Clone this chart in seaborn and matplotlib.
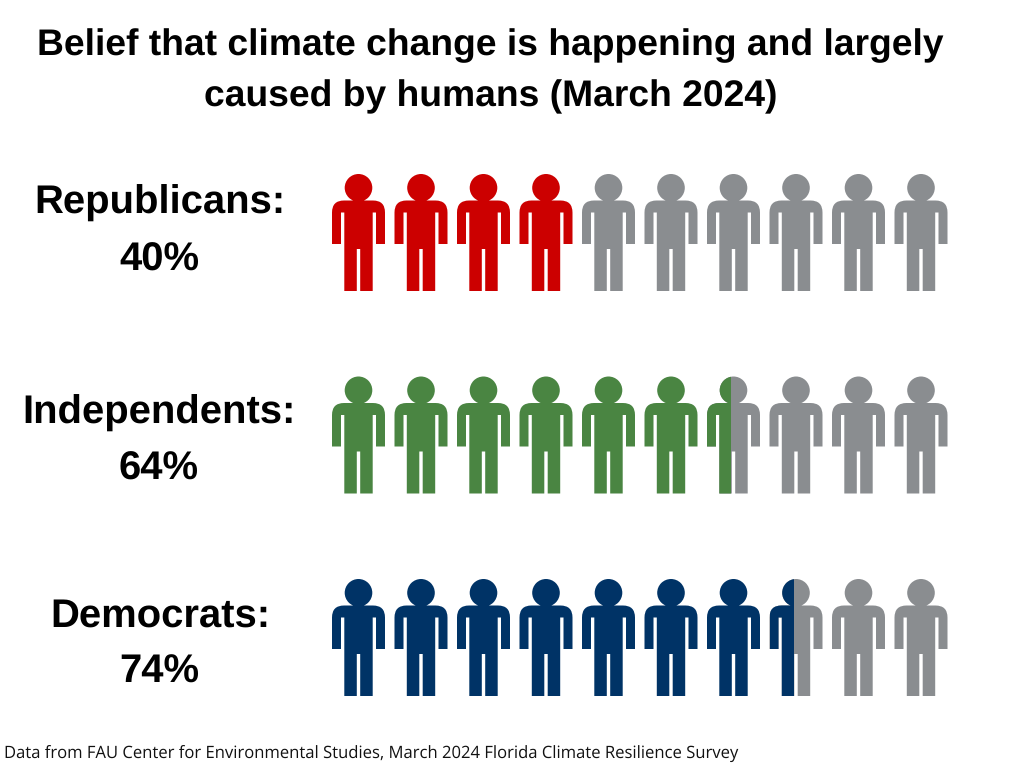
import matplotlib
matplotlib.use("Agg")
import matplotlib.pyplot as plt
from matplotlib.path import Path
from matplotlib.patches import Rectangle
from matplotlib.transforms import Affine2D
import pandas as pd
import seaborn as sns

groups = ["Republicans", "Independents", "Democrats"]
percent_labels = ["40%", "64%", "74%"]
full_icons = [4, 6, 7]
partial_fraction = [0.0, 0.45, 0.47]
icon_count = 10
colors = {"Republicans": "#CC0000", "Independents": "#4A8542", "Democrats": "#003366", "rest": "#8A8D90"}
title_lines = ["Belief that climate change is happening and largely", "caused by humans (March 2024)"]
source = "Data from FAU Center for Environmental Studies, March 2024 Florida Climate Resilience Survey"

sns.set_theme(style="white")
plt.rcParams["font.family"] = ["Liberation Sans", "DejaVu Sans"]
plt.rcParams["text.hinting"] = "no_hinting"
plt.rcParams["text.hinting_factor"] = 8

# Person pictogram, in pixel-like local units, y up
body_v = [(-14.2, -58.5), (-1.7, -58.5), (-1.7, -16.5), (1.7, -16.5), (1.7, -58.5), (14.2, -58.5), (14.2, 20), (17.5, 20),
          (17.5, -11.5), (26.5, -11.5), (26.5, 20), (26.5, 32), (14.5, 32), (-14.5, 32), (-26.5, 32), (-26.5, 20),
          (-26.5, -11.5), (-17.5, -11.5), (-17.5, 20), (-14.2, 20), (-14.2, -58.5)]
body_c = [Path.MOVETO] + [Path.LINETO] * 9 + [Path.LINETO, Path.CURVE3, Path.CURVE3, Path.LINETO, Path.CURVE3,
          Path.CURVE3] + [Path.LINETO] * 4 + [Path.CLOSEPOLY]
head = Path.unit_circle().transformed(Affine2D().scale(13.8).translate(0, 44.7))
person = Path.make_compound_path(head, Path(body_v, body_c))
ICON_W, ICON_H, STEP, ROW_STEP = 53, 117, 62.5, 202.5
SIZE = (ICON_H * 72 / 100) ** 2

fig = plt.figure(figsize=(10.24, 7.68), dpi=100)
ax = fig.add_axes([0, 0, 1, 1])

rows = []
for r, g in enumerate(groups):
    for i in range(icon_count):
        rows.append({"icon": i, "row": r, "fill": g if i < full_icons[r] else "rest"})
df = pd.DataFrame(rows)

sns.scatterplot(data=df, x="icon", y="row", hue="fill", palette=colors, marker=person, s=SIZE,
                linewidth=0, edgecolor="none", legend=False, ax=ax)

for r, g in enumerate(groups):
    if partial_fraction[r] > 0:
        i = full_icons[r]
        sns.scatterplot(x=[i], y=[r], color=colors[g], marker=person, s=SIZE, linewidth=0,
                        edgecolor="none", legend=False, ax=ax)
        w = ICON_W / STEP
        clip = Rectangle((i - w / 2, r - 0.5), w * partial_fraction[r], 1, transform=ax.transData)
        ax.collections[-1].set_clip_path(clip)

ax.set_xlim(-358.5 / STEP, (1024 - 358.5) / STEP)
ax.set_ylim((768 - 232.5) / ROW_STEP, -232.5 / ROW_STEP)
ax.set_axis_off()

def px(x, y):
    return x / 1024, 1 - y / 768

for y, line in zip([45.5, 96.5], title_lines):
    fig.text(*px(490.5, y), line, ha="center", va="center", fontsize=26.85, fontweight="bold", color="black")
for (y1, y2, cx), g, p in zip([(203.5, 260, 160), (413, 469, 159.5), (616, 672, 160)], groups, percent_labels):
    fig.text(*px(cx, y1), g + ":", ha="center", va="center", fontsize=28.8, fontweight="bold", color="black")
    fig.text(*px(cx - 1, y2), p, ha="center", va="center", fontsize=28.8, fontweight="bold", color="black")
fig.text(*px(4, 753), source, ha="left", va="center", fontsize=12, family=["Open Sans", "DejaVu Sans"], color="#111111")

fig.savefig("out.png", dpi=100)
